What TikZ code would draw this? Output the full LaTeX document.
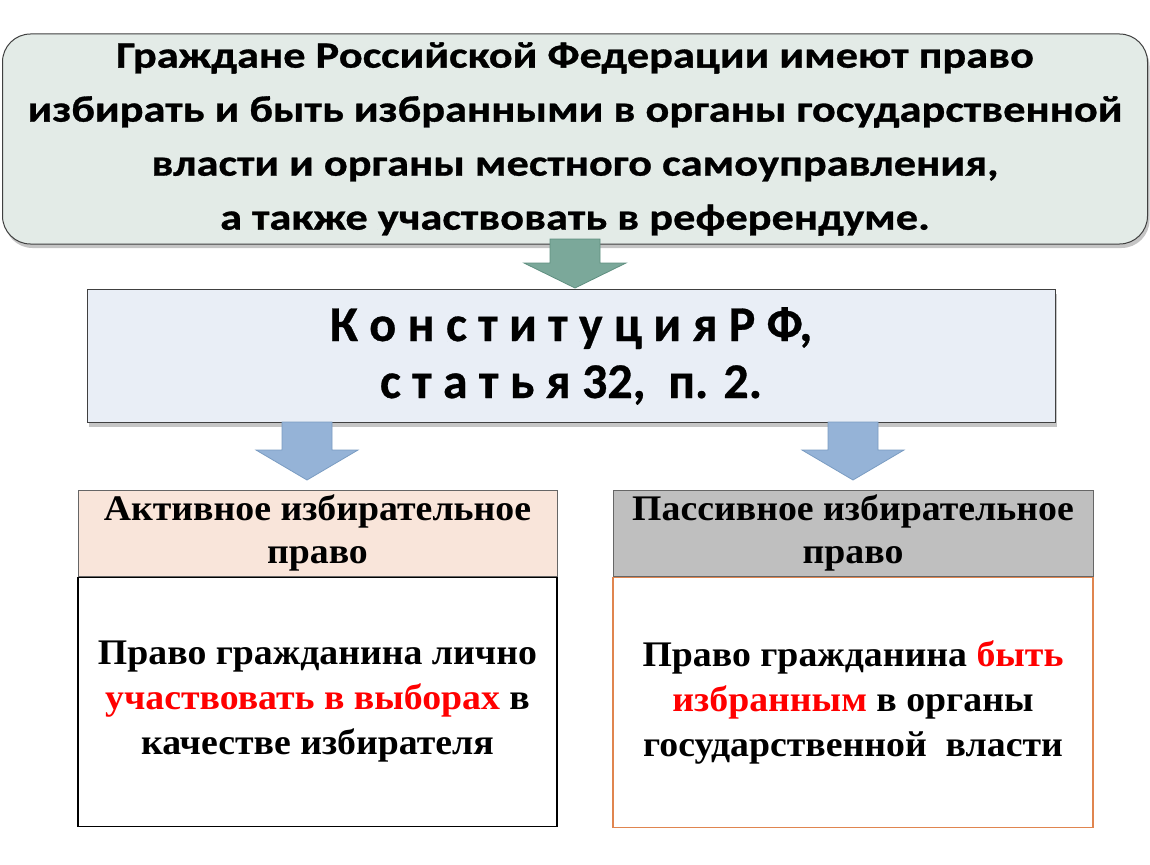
\documentclass[tikz,border=0pt]{standalone}
\usepackage{fontspec}
\setmainfont{Liberation Serif}
\newfontfamily\calwide[FakeStretch=1.2, BoldFeatures={FakeBold=0.8}]{Carlito}
\newfontfamily\calfont[BoldFeatures={FakeBold=0.6}]{Carlito}
\newfontfamily\timeswide[FakeStretch=1.05]{Liberation Serif}
\usetikzlibrary{shadows}

\newcommand{\konstfont}{\calfont\bfseries\fontsize{50}{57}\selectfont}

\definecolor{topfill}{HTML}{E3EBE7}
\definecolor{konstfill}{HTML}{E9EEF6}
\definecolor{greenarrow}{HTML}{7BA89A}
\definecolor{greenedge}{HTML}{5F8F80}
\definecolor{bluearrow}{HTML}{95B3D7}
\definecolor{blueedge}{HTML}{7A9CC2}
\definecolor{peachfill}{HTML}{F9E5DA}
\definecolor{grayfill}{HTML}{BFBFBF}
\definecolor{orangeedge}{HTML}{E0854F}
\definecolor{redtext}{HTML}{FF0000}

\tikzset{
  shade box/.style={draw=black!75, line width=1pt,
    drop shadow={shadow xshift=2pt, shadow yshift=-4pt, opacity=.45}},
  head box/.style={draw=black!60, line width=1pt, align=center, inner sep=0pt,
    font=\timeswide\bfseries\fontsize{36}{43}\selectfont},
  body box/.style={line width=1.2pt, align=center, inner sep=0pt,
    font=\timeswide\bfseries\fontsize{36}{45}\selectfont},
}

\newcommand{\blockdown}[6]{%
  % #1 fill, #2 edge, #3 centre x, #4 top y, #5 head y, #6 tip y
  \filldraw[fill=#1, draw=#2, line width=.8pt]
    (#3-25,#4) -- (#3+25,#4) -- (#3+25,#5) -- (#3+51,#5) --
    (#3,#6) -- (#3-51,#5) -- (#3-25,#5) -- cycle;
}

\begin{document}
\begin{tikzpicture}[x=1pt, y=-1pt]
  \useasboundingbox[fill=white] (0,0) rectangle (1150,864);

  % top statement
  \node[shade box, fill=topfill, rounded corners=28pt, minimum width=1145pt,
        minimum height=210pt, inner sep=0pt, align=center,
        font=\calwide\bfseries\fontsize{37}{54}\selectfont] (rights) at (575,139)
    {Граждане Российской Федерации имеют право\\
     избирать и быть избранными в органы государственной\\
     власти и органы местного самоуправления,\\
     а также участвовать в референдуме.};

  % constitution
  \node[shade box, fill=konstfill, minimum width=968pt, minimum height=133pt,
        inner sep=0pt, align=center, font=\konstfont] (konst) at (571,356)
    {К о н с т и т у ц и я Р Ф,\\
     с т а т ь я 32,\ \ п. 2.};

  \blockdown{greenarrow}{greenedge}{575}{239}{263}{288}
  \blockdown{bluearrow}{blueedge}{307}{422}{450}{480}
  \blockdown{bluearrow}{blueedge}{853}{422}{450}{480}

  % active right
  \node[head box, fill=peachfill, minimum width=479pt, minimum height=86pt]
    (activehead) at (317.5,533) {Активное избирательное\\право};
  \node[body box, draw=black, fill=white, minimum width=479pt, minimum height=249pt,
        anchor=north] (activebody) at (activehead.south)
    {Право гражданина лично\\
     {\color{redtext}участвовать в выборах} в\\
     качестве избирателя};

  % passive right
  \node[head box, fill=grayfill, minimum width=480pt, minimum height=86pt]
    (passivehead) at (853,533) {Пассивное избирательное\\право};
  \node[body box, draw=orangeedge, fill=white, minimum width=480pt, minimum height=250pt,
        anchor=north] (passivebody) at (passivehead.south)
    {Право гражданина {\color{redtext}быть}\\
     {\color{redtext}избранным} в органы\\
     государственной\ \ власти};
\end{tikzpicture}
\end{document}
